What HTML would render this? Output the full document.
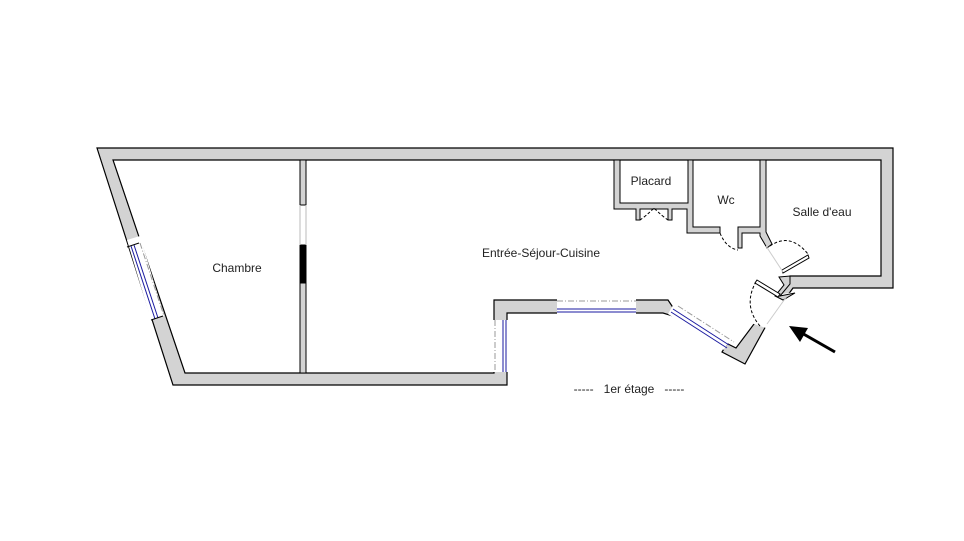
<!DOCTYPE html>
<html><head><meta charset="utf-8"><style>html,body{margin:0;background:#fff}svg{display:block}</style></head>
<body>
<svg width="964" height="541" viewBox="0 0 964 541" xmlns="http://www.w3.org/2000/svg" font-family="'Liberation Sans','DejaVu Sans',sans-serif" font-size="12">
<rect width="964" height="541" fill="#fff"/>
<g stroke="#000" stroke-width="1.2" fill="#d3d3d3">
<polygon points="97,148 893,148 893,288 793,288 767,324 745,364 722,352 727,344 673,316 663,313 636,313 557,313 507,313 507,385 173,385"/>
</g>
<polygon points="113,160 881,160 881,276 790,276 778,300 757,320 736,348 728,344 676,312 668,300 557,300 494,300 494,373 185,373" fill="#fff" stroke="#000" stroke-width="1.2"/>
<g fill="#fff" stroke="none">
<polygon points="127,240 140,236 164,316 151,320"/>
<rect x="557" y="299" width="79" height="16"/>
<polygon points="676,300 732,336 724,350 668,314"/>
<rect x="493" y="320" width="15" height="52"/>
<polygon points="770,296 795,292 772,330 748,322"/>
</g>
<g fill="none">
<line x1="131" y1="246" x2="155" y2="319" stroke="#1a1aa0" stroke-width="1"/>
<line x1="134" y1="245" x2="158" y2="318" stroke="#1a1aa0" stroke-width="1"/>
<line x1="140" y1="243" x2="164" y2="316" stroke="#999" stroke-dasharray="6,2,1,2"/>
<line x1="127" y1="247" x2="139" y2="243" stroke="#000"/>
<line x1="151" y1="320" x2="163" y2="316" stroke="#000"/>
<line x1="557" y1="309" x2="636" y2="309" stroke="#1a1aa0"/>
<line x1="557" y1="312" x2="636" y2="312" stroke="#1a1aa0"/>
<line x1="557" y1="301" x2="636" y2="301" stroke="#999" stroke-dasharray="6,2,1,2"/>
<line x1="671" y1="312" x2="727" y2="348" stroke="#1a1aa0"/>
<line x1="673" y1="309" x2="729" y2="345" stroke="#1a1aa0"/>
<line x1="678" y1="306" x2="734" y2="342" stroke="#999" stroke-dasharray="6,2,1,2"/>
<line x1="503" y1="320" x2="503" y2="372" stroke="#1a1aa0"/>
<line x1="506" y1="320" x2="506" y2="372" stroke="#1a1aa0"/>
<line x1="495" y1="320" x2="495" y2="372" stroke="#999" stroke-dasharray="6,2,1,2"/>
</g>
<g fill="#d3d3d3" stroke="#000" stroke-width="1">
<rect x="300" y="160" width="6" height="45"/>
<rect x="300" y="283" width="6" height="90"/>
<rect x="300" y="245" width="6" height="38" fill="#000"/>
<polygon points="614,160 620,160 620,203 688,203 688,160 693,160 693,227 720,227 720,233 687,233 687,209 672,209 672,220 668,220 668,209 640,209 640,220 636,220 636,209 614,209"/>
<polygon points="760,160 766,160 766,232 772,244 767,248 760,236 760,233 742,233 742,248 738,248 738,227 760,227"/>
<polygon points="779,277 790,276 790,284 780,296 795,293 783,300 775,296 784,285"/>
</g>
<line x1="306" y1="205" x2="306" y2="245" stroke="#bbb"/>
<line x1="300" y1="205" x2="300" y2="245" stroke="#bbb"/>
<g fill="none" stroke="#000" stroke-width="1" stroke-dasharray="3,2">
<path d="M640,220 Q646,216 654,208"/>
<path d="M668,220 Q662,216 654,208"/>
<path d="M720,233 Q726,248 738,250"/>
<path d="M770,246 Q790,232 808,254"/>
<path d="M760,326 Q742,305 757,280"/>
</g>
<g fill="#fff" stroke="#000" stroke-width="1">
<polygon points="782,270 808,255 809,258 783,273"/>
<polygon points="757,280 780,294 778,297 755,283"/>
</g>
<line x1="766" y1="246" x2="783" y2="272" stroke="#ccc"/>
<line x1="787" y1="296" x2="767" y2="324" stroke="#ccc"/>
<line x1="835" y1="352" x2="800" y2="332" stroke="#000" stroke-width="3"/>
<polygon points="789,326 808,328 800,342" fill="#000"/>
<g fill="#222">
<text x="237" y="272" text-anchor="middle">Chambre</text>
<text x="541" y="257" text-anchor="middle">Entrée-Séjour-Cuisine</text>
<text x="651" y="185" text-anchor="middle">Placard</text>
<text x="726" y="204" text-anchor="middle">Wc</text>
<text x="822" y="216" text-anchor="middle">Salle d'eau</text>
<text x="629" y="393" text-anchor="middle" xml:space="preserve">-----   1er étage   -----</text>
</g>
</svg>
</body></html>
